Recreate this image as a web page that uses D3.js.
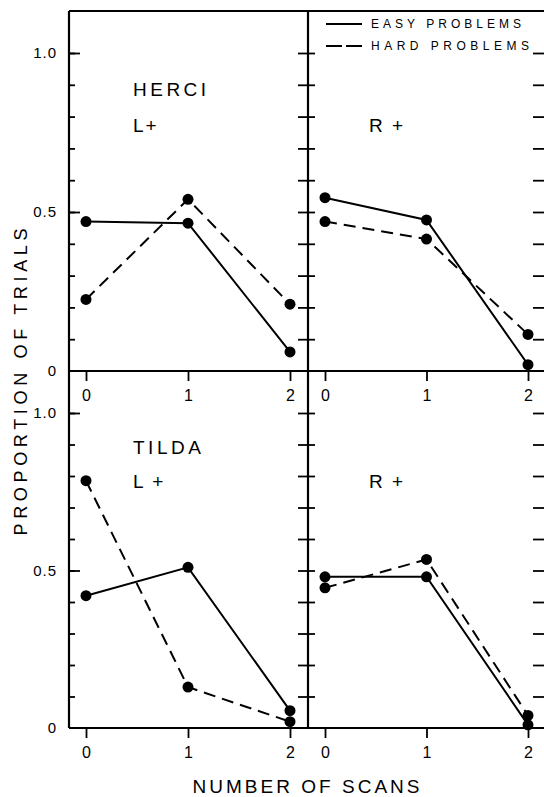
<!DOCTYPE html>
<html>
<head>
<meta charset="utf-8">
<script src="https://cdn.jsdelivr.net/npm/d3@7"></script>
<style>
  body { margin: 0; background: #fff; }
  svg { display: block; font-family: "Liberation Sans", Arial, sans-serif; }
  .axis path.domain { display: none; }
  .axis line { stroke: #000; stroke-width: 1.8; }
  .axis text { fill: #000; }
</style>
</head>
<body>
<div id="chart"></div>
<script>
const Width = 544;
const Height = 797;

// data
const scans = [0, 1, 2];
const herciLEasy = [0.47, 0.465, 0.06];
const herciLHard = [0.225, 0.54, 0.21];
const herciREasy = [0.545, 0.475, 0.02];
const herciRHard = [0.47, 0.415, 0.115];
const tildaLEasy = [0.42, 0.51, 0.055];
const tildaLHard = [0.785, 0.13, 0.02];
const tildaREasy = [0.48, 0.48, 0.01];
const tildaRHard = [0.445, 0.535, 0.04];

const yTicks = [0.1, 0.2, 0.3, 0.4, 0.5, 0.6, 0.7, 0.8, 0.9, 1.0];
const yLabels = [0, 0.5, 1.0];

// frame
const LeftX = 69, MidX = 308, RightX = 546;
const TopY = 11;
const rows = [
  { base: 371, one: 53, name: 'HERCI', nameY: 96, sideY: 132 },
  { base: 728, one: 413, name: 'TILDA', nameY: 454, sideY: 488 }
];
const panels = [
  { row: 0, col: 0, easy: herciLEasy, hard: herciLHard, side: 'L+' },
  { row: 0, col: 1, easy: herciREasy, hard: herciRHard, side: 'R +' },
  { row: 1, col: 0, easy: tildaLEasy, hard: tildaLHard, side: 'L +' },
  { row: 1, col: 1, easy: tildaREasy, hard: tildaRHard, side: 'R +' }
];

const svg = d3.select('#chart').append('svg')
  .attr('width', Width)
  .attr('height', Height);

const fmt = d => d === 0 ? '0' : d3.format('.1f')(d);

rows.forEach(function (r) {
  const y = d3.scaleLinear().domain([0, 1]).range([r.base, r.one]);

  // left axis: ticks inward
  svg.append('g').attr('class', 'axis')
    .attr('transform', 'translate(' + LeftX + ',0)')
    .call(d3.axisRight(y).tickValues(yTicks).tickSize(6).tickFormat(''));
  svg.append('g').attr('class', 'axis')
    .attr('transform', 'translate(' + LeftX + ',0)')
    .call(d3.axisRight(y).tickValues([0.5, 1.0]).tickSize(11).tickFormat(''));
  svg.append('g').attr('class', 'axis')
    .attr('transform', 'translate(' + LeftX + ',0)')
    .call(d3.axisLeft(y).tickValues(yLabels).tickSize(0).tickPadding(12).tickFormat(fmt))
    .selectAll('text')
    .style('font-size', '15px')
    .style('letter-spacing', '1px');

  // middle divider: ticks cross
  svg.append('g').attr('class', 'axis')
    .attr('transform', 'translate(' + MidX + ',0)')
    .call(d3.axisLeft(y).tickValues(yTicks).tickSize(10).tickFormat(''));
  svg.append('g').attr('class', 'axis')
    .attr('transform', 'translate(' + MidX + ',0)')
    .call(d3.axisRight(y).tickValues(yTicks).tickSize(7).tickFormat(''));

  // right axis: ticks inward
  svg.append('g').attr('class', 'axis')
    .attr('transform', 'translate(' + RightX + ',0)')
    .call(d3.axisLeft(y).tickValues(yTicks).tickSize(13).tickFormat(''));
});

// frame lines
const frame = svg.append('g').attr('stroke', '#000').attr('stroke-width', 2.2);
frame.append('line').attr('x1', LeftX).attr('x2', LeftX).attr('y1', TopY).attr('y2', rows[1].base);
frame.append('line').attr('x1', MidX).attr('x2', MidX).attr('y1', TopY).attr('y2', rows[1].base);
frame.append('line').attr('x1', RightX).attr('x2', RightX).attr('y1', TopY).attr('y2', rows[1].base);
frame.append('line').attr('x1', LeftX).attr('x2', RightX).attr('y1', TopY).attr('y2', TopY);
rows.forEach(r => {
  frame.append('line').attr('x1', LeftX).attr('x2', RightX).attr('y1', r.base).attr('y2', r.base);
});

panels.forEach(function (p) {
  const r = rows[p.row];
  const x0 = p.col === 0 ? LeftX : MidX;
  const x1 = p.col === 0 ? MidX : RightX;
  const x = d3.scaleLinear().domain([0, 2]).range([x0 + 17, x1 - 18]);
  const y = d3.scaleLinear().domain([0, 1]).range([r.base, r.one]);

  // x axis ticks and labels
  const xa = svg.append('g').attr('class', 'axis')
    .attr('transform', 'translate(0,' + r.base + ')')
    .call(d3.axisBottom(x).tickValues(scans).tickSize(10).tickPadding(9).tickFormat(d3.format('d')));
  xa.selectAll('text').style('font-size', '16px');

  const line = d3.line().x((d, i) => x(scans[i])).y(d => y(d));

  [[p.easy, null], [p.hard, '12,7']].forEach(function (s) {
    svg.append('path')
      .datum(s[0])
      .attr('d', line)
      .attr('fill', 'none')
      .attr('stroke', '#000')
      .attr('stroke-width', 2)
      .attr('stroke-dasharray', s[1]);
    svg.append('g').selectAll('circle')
      .data(s[0])
      .enter()
      .append('circle')
      .attr('cx', (d, i) => x(scans[i]))
      .attr('cy', d => y(d))
      .attr('r', 5.5)
      .attr('fill', '#000');
  });

  // panel labels
  if (p.col === 0) {
    svg.append('text')
      .attr('x', x0 + 64).attr('y', r.nameY)
      .style('font-size', '19px').style('letter-spacing', '3.5px')
      .text(r.name);
  }
  svg.append('text')
    .attr('x', x0 + (p.col === 0 ? 64 : 61)).attr('y', r.sideY)
    .style('font-size', '19px').style('letter-spacing', '2px')
    .text(p.side);
});

// legend
const legend = svg.append('g');
const legendItems = [
  { label: 'EASY PROBLEMS', dash: null, y: 28, len: 150 },
  { label: 'HARD PROBLEMS', dash: '16,4', y: 50, len: 158 }
];
legendItems.forEach(function (d) {
  legend.append('line')
    .attr('x1', 326).attr('x2', 362)
    .attr('y1', d.y - 4).attr('y2', d.y - 4)
    .attr('stroke', '#000').attr('stroke-width', 1.8)
    .attr('stroke-dasharray', d.dash);
  legend.append('text')
    .attr('x', 371).attr('y', d.y)
    .attr('textLength', d.len)
    .attr('lengthAdjust', 'spacing')
    .style('font-size', '12px')
    .text(d.label);
});

// axis titles
svg.append('text')
  .attr('transform', 'translate(27,382) rotate(-90)')
  .attr('text-anchor', 'middle')
  .attr('textLength', 307)
  .attr('lengthAdjust', 'spacing')
  .style('font-size', '18px')
  .text('PROPORTION OF TRIALS');

svg.append('text')
  .attr('x', 306).attr('y', 793)
  .attr('text-anchor', 'middle')
  .attr('textLength', 227)
  .attr('lengthAdjust', 'spacing')
  .style('font-size', '19px')
  .text('NUMBER OF SCANS');
</script>
</body>
</html>
